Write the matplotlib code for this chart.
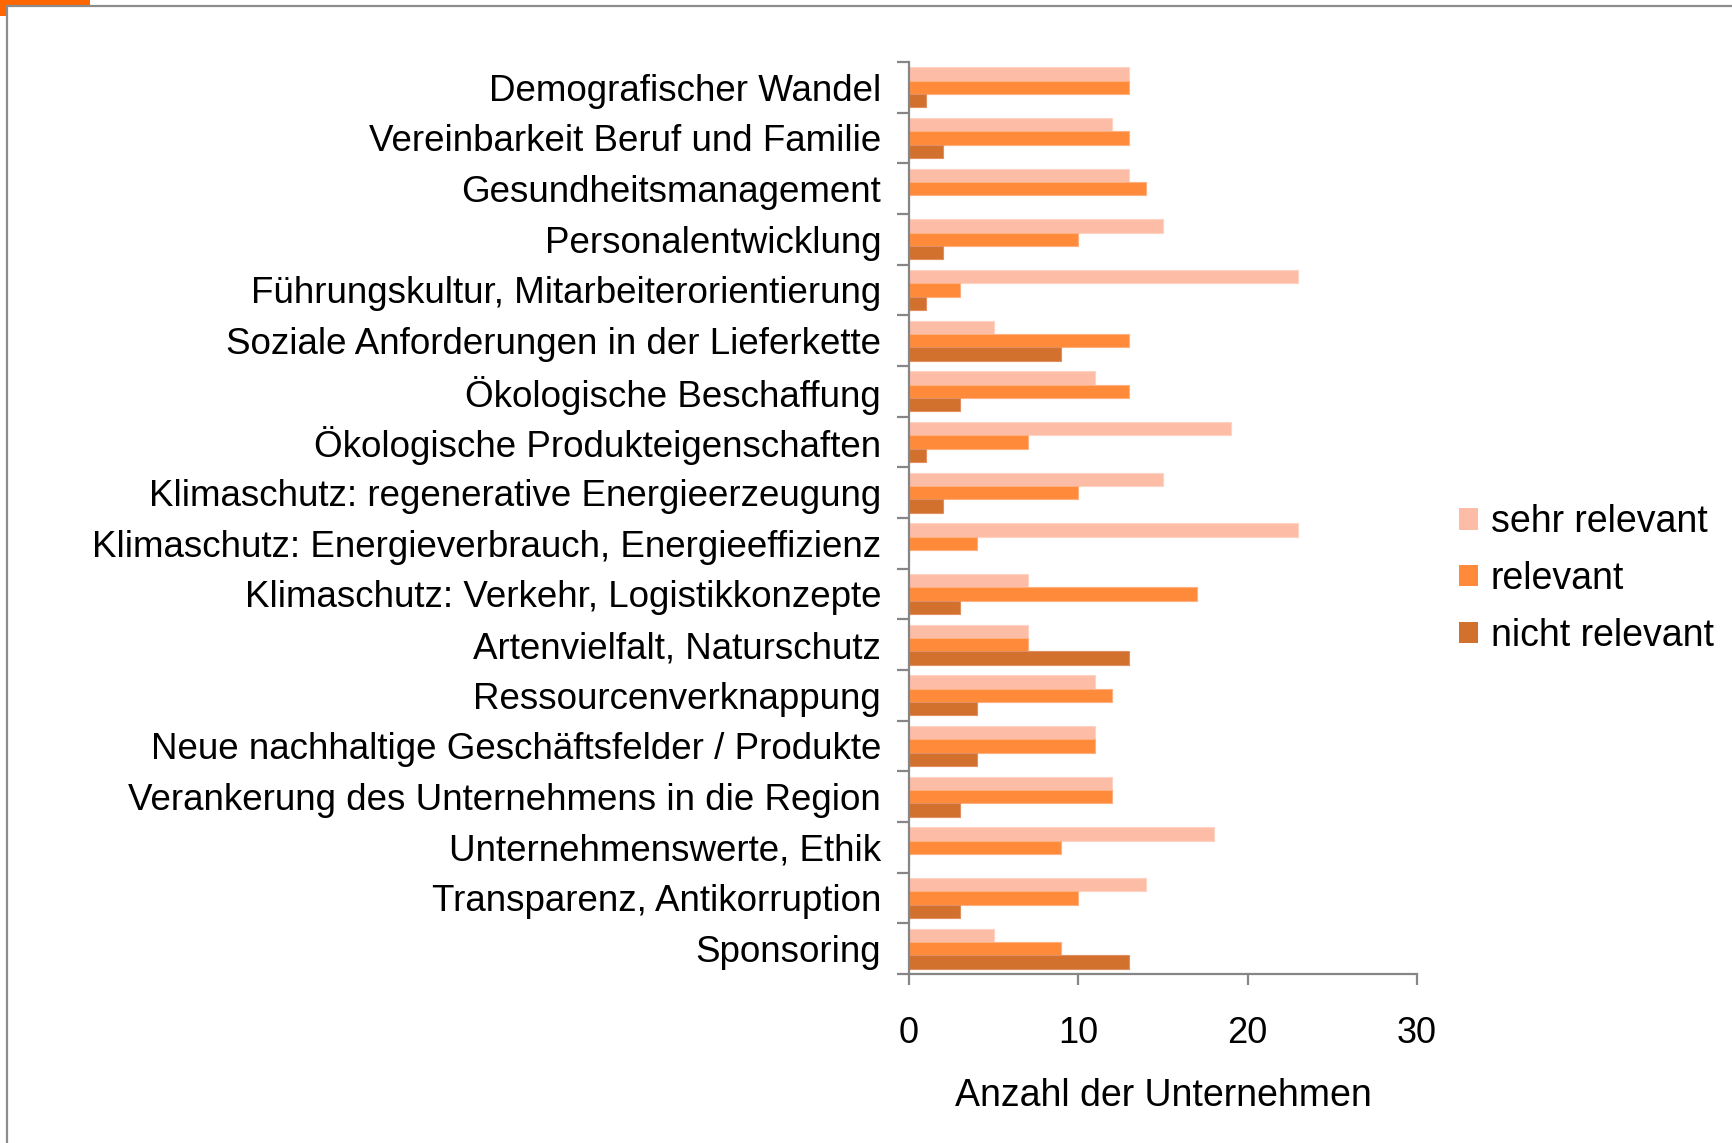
import matplotlib
matplotlib.use("Agg")
import matplotlib.pyplot as plt
from matplotlib.patches import Patch, Rectangle
import numpy as np

plt.rcParams["font.family"] = ["Liberation Sans", "DejaVu Sans"]

categories = [
    "Demografischer Wandel",
    "Vereinbarkeit Beruf und Familie",
    "Gesundheitsmanagement",
    "Personalentwicklung",
    "Führungskultur, Mitarbeiterorientierung",
    "Soziale Anforderungen in der Lieferkette",
    "Ökologische Beschaffung",
    "Ökologische Produkteigenschaften",
    "Klimaschutz: regenerative Energieerzeugung",
    "Klimaschutz: Energieverbrauch, Energieeffizienz",
    "Klimaschutz: Verkehr, Logistikkonzepte",
    "Artenvielfalt, Naturschutz",
    "Ressourcenverknappung",
    "Neue nachhaltige Geschäftsfelder / Produkte",
    "Verankerung des Unternehmens in die Region",
    "Unternehmenswerte, Ethik",
    "Transparenz, Antikorruption",
    "Sponsoring",
]
sehr_relevant = [13, 12, 13, 15, 23, 5, 11, 19, 15, 23, 7, 7, 11, 11, 12, 18, 14, 5]
relevant = [13, 13, 14, 10, 3, 13, 13, 7, 10, 4, 17, 7, 12, 11, 12, 9, 10, 9]
nicht_relevant = [1, 2, 0, 2, 1, 9, 3, 1, 2, 0, 3, 13, 4, 4, 3, 0, 3, 13]

series_names = ["sehr relevant", "relevant", "nicht relevant"]
colors = ["#FDBCA6", "#FF8A3A", "#D2702E"]
edge_colors = ["#FDD3C4", "#FFB080", "#E09060"]
x_ticks = [0, 10, 20, 30]

W, H = 1733, 1143
fig = plt.figure(figsize=(W / 100, H / 100), dpi=100)

# slide-like frame with orange corner mark (behind the axes)
fig.patches.append(Rectangle((0, 1 - 16 / H), 90 / W, 16 / H, transform=fig.transFigure,
                             facecolor="#FF6600", edgecolor="none", zorder=-2))
fig.patches.append(Rectangle((7 / W, -0.1), 1.2, 1 - 6 / H + 0.1, transform=fig.transFigure,
                             facecolor="white", edgecolor="#8C8C8C", linewidth=1.6, zorder=-1))

ax = fig.add_axes([909 / W, 1 - 974 / H, (1417 - 909) / W, (974 - 62) / H])
ax.set_facecolor("none")

y = np.arange(len(categories))
h = 0.262
for k, vals in enumerate([sehr_relevant, relevant, nicht_relevant]):
    ax.barh(y + (k - 1) * h, vals, height=h, color=colors[k], edgecolor=edge_colors[k],
            linewidth=0.8, label=series_names[k], zorder=2)

ax.set_xlim(0, 30)
ax.set_ylim(len(categories) - 0.5, -0.5)

axis_color = "#868686"
for side in ["top", "right"]:
    ax.spines[side].set_visible(False)
for side in ["left", "bottom"]:
    ax.spines[side].set_color(axis_color)
    ax.spines[side].set_linewidth(1.6)
    ax.spines[side].set_zorder(3)

ax.set_yticks(y)
ax.set_yticklabels(categories, fontsize=26.5)
ax.set_yticks(np.arange(len(categories) + 1) - 0.5, minor=True)
ax.tick_params(axis="y", which="major", length=0, pad=20)
ax.tick_params(axis="y", which="minor", length=8.6, width=1.6, color=axis_color)

ax.set_xticks(x_ticks)
ax.set_xticklabels([str(t) for t in x_ticks], fontsize=26)
ax.tick_params(axis="x", length=8, width=1.6, color=axis_color, pad=22)

ax.set_xlabel("Anzahl der Unternehmen", fontsize=27, va="center")
ax.xaxis.set_label_coords(0.5, -0.134)

handles = [Patch(facecolor=c, edgecolor="none") for c in colors]
fig.legend(handles, series_names, loc="center left", bbox_to_anchor=(1459 / W, 1 - 579 / H),
           frameon=False, fontsize=27, handlelength=0.5, handleheight=0.5,
           handletextpad=0.35, labelspacing=0.55, borderpad=0, borderaxespad=0)

fig.savefig("out.png", dpi=100)
